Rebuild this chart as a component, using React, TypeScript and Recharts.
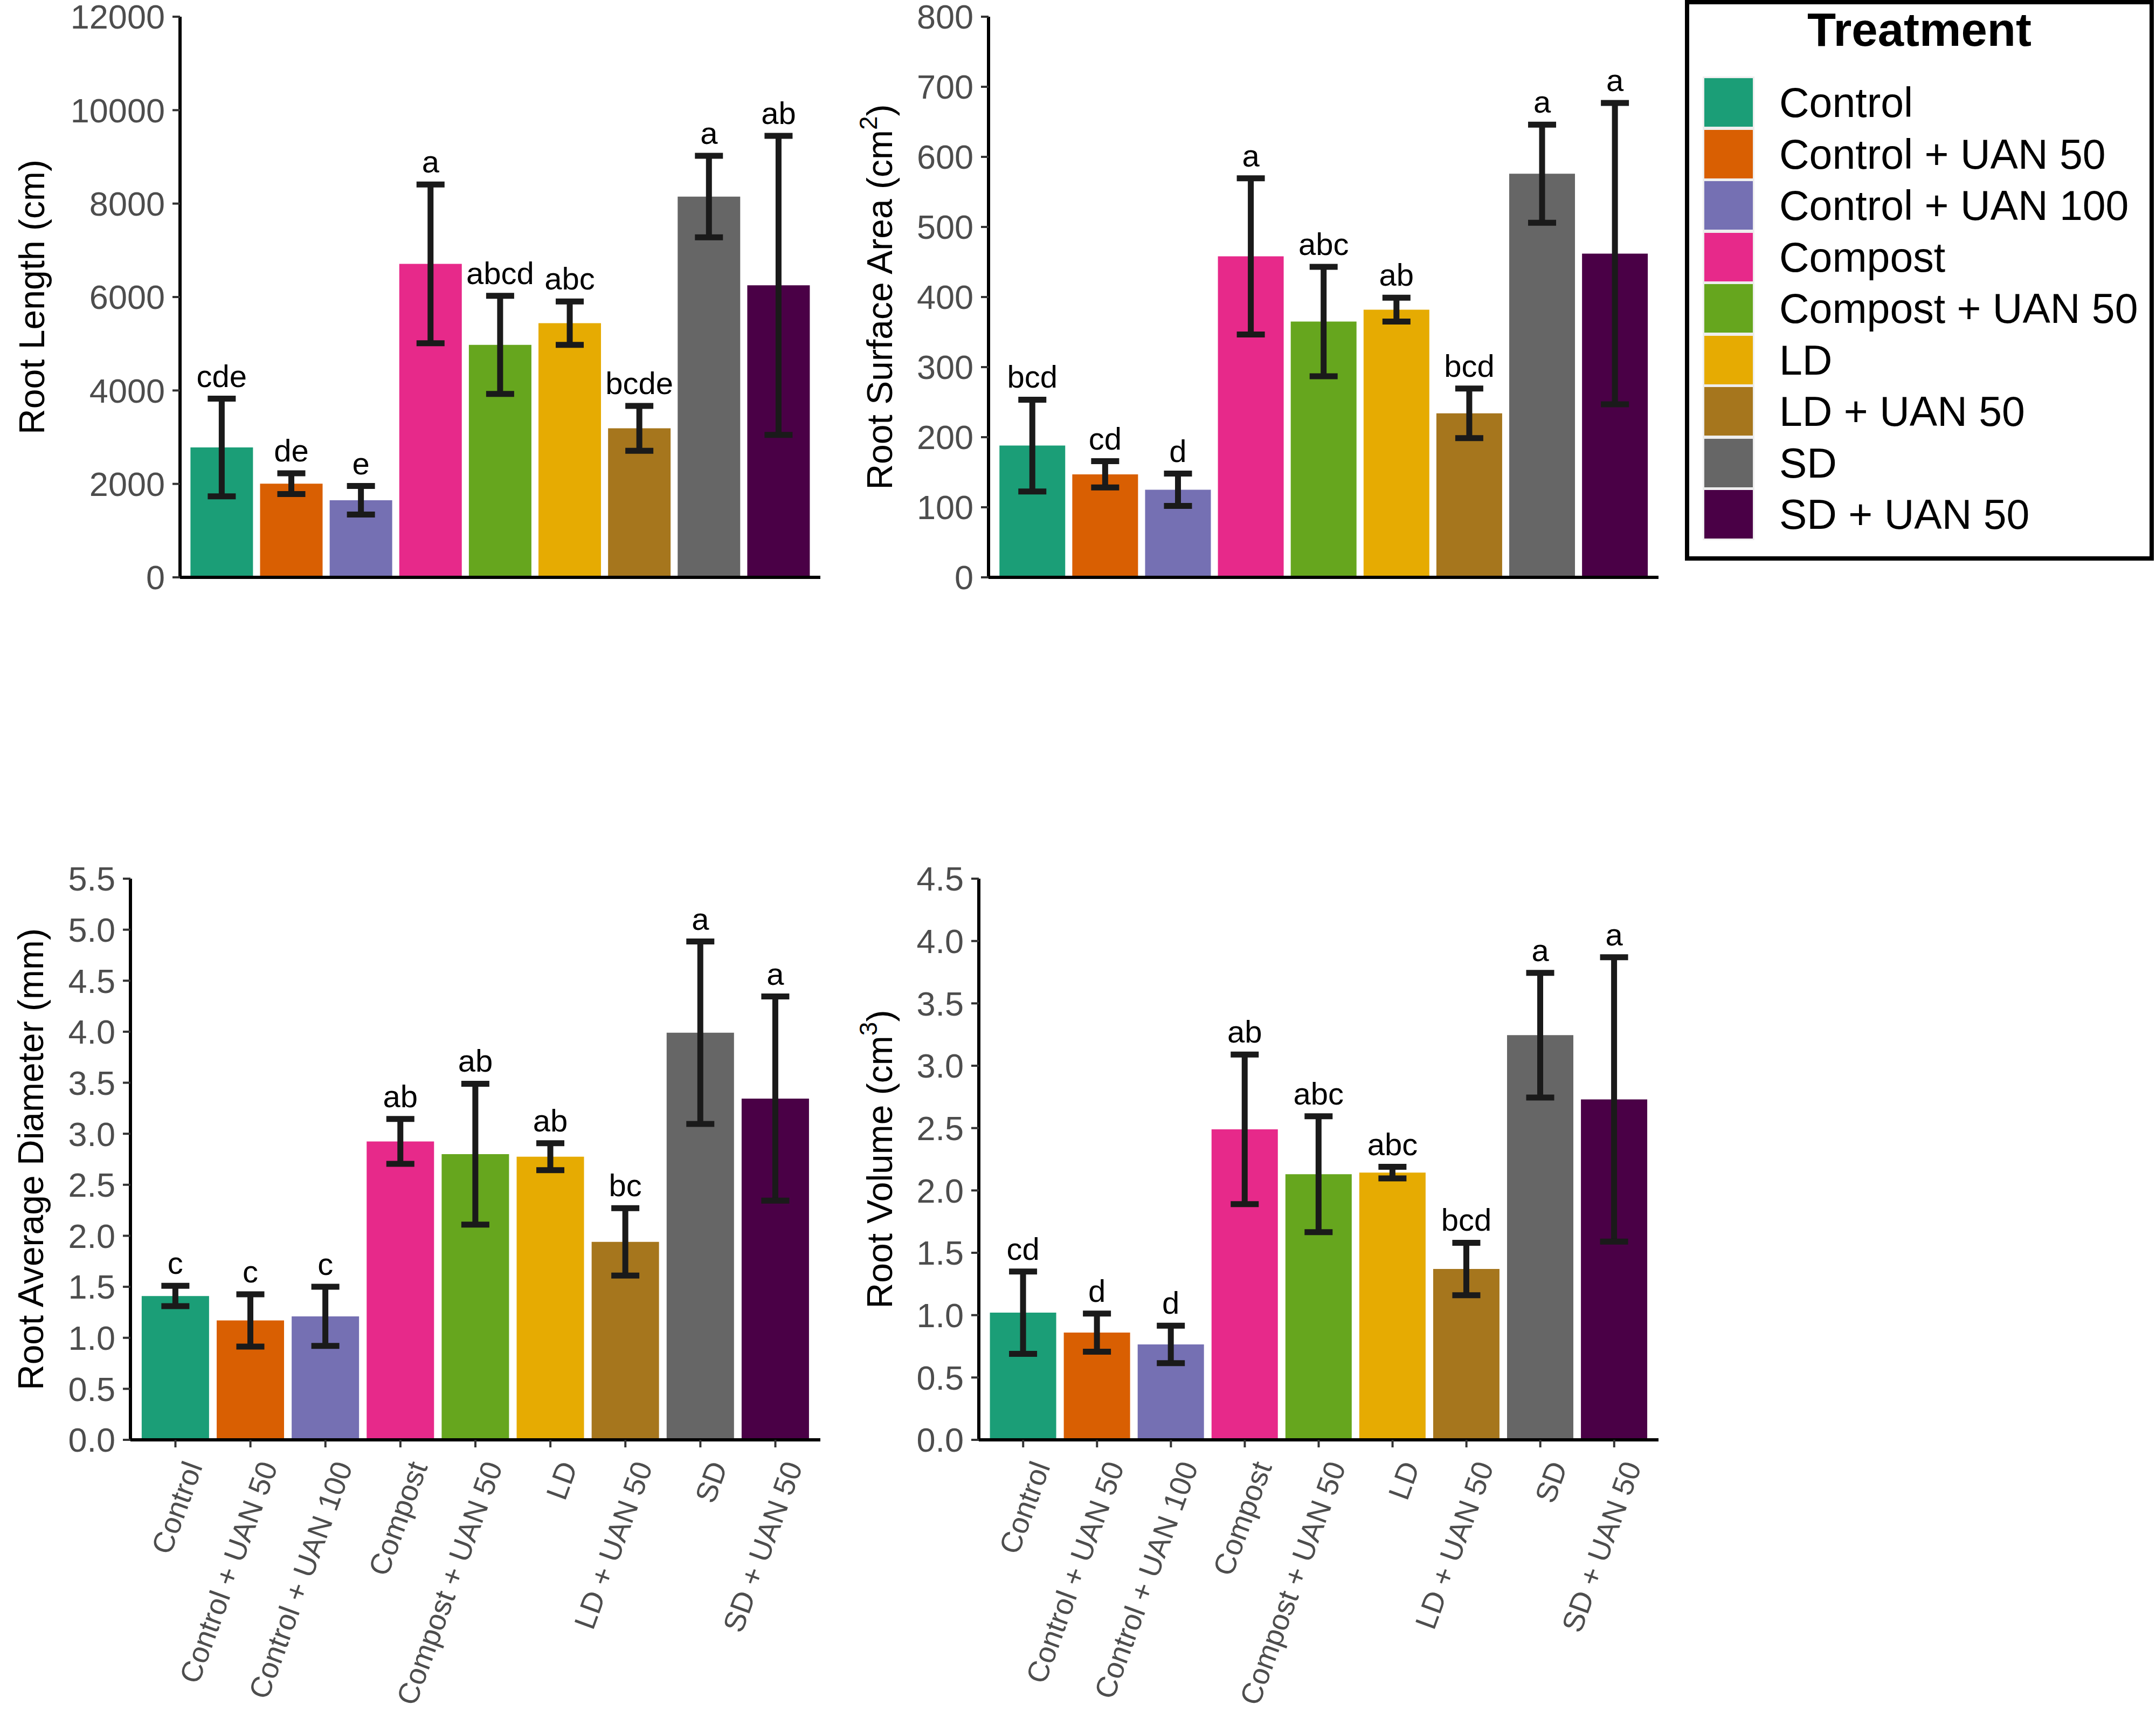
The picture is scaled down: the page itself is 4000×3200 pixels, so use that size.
import React from "react";
import { BarChart, Bar, XAxis, YAxis, ErrorBar, LabelList, Cell } from "recharts";

const FONT = "'Liberation Sans', Arial, Helvetica, sans-serif";

const treatments = [
  "Control",
  "Control + UAN 50",
  "Control + UAN 100",
  "Compost",
  "Compost + UAN 50",
  "LD",
  "LD + UAN 50",
  "SD",
  "SD + UAN 50",
];
const colors = ["#1b9e77", "#d95f02", "#7570b3", "#e7298a", "#66a61e", "#e6ab02", "#a6761d", "#666666", "#4a0046"];

// Root length (cm)
const lengthMean = [2780, 2005, 1650, 6710, 4975, 5440, 3190, 8150, 6250];
const lengthSe = [1045, 222, 305, 1700, 1050, 465, 480, 873, 3200];
const lengthLetters = ["cde", "de", "e", "a", "abcd", "abc", "bcde", "a", "ab"];
const lengthTicks = [0, 2000, 4000, 6000, 8000, 10000, 12000];

// Root surface area (cm2)
const areaMean = [188, 147, 125, 458, 365, 382, 234, 576, 462];
const areaSe = [65.5, 18.7, 23, 111.5, 78, 17, 35.4, 70, 215];
const areaLetters = ["bcd", "cd", "d", "a", "abc", "ab", "bcd", "a", "a"];
const areaTicks = [0, 100, 200, 300, 400, 500, 600, 700, 800];

// Root average diameter (mm)
const diamMean = [1.41, 1.17, 1.21, 2.925, 2.8, 2.775, 1.94, 3.99, 3.345];
const diamSe = [0.1, 0.256, 0.29, 0.22, 0.69, 0.132, 0.33, 0.894, 1.0];
const diamLetters = ["c", "c", "c", "ab", "ab", "ab", "bc", "a", "a"];
const diamTicks = [0, 0.5, 1, 1.5, 2, 2.5, 3, 3.5, 4, 4.5, 5, 5.5];

// Root volume (cm3)
const volMean = [1.02, 0.86, 0.765, 2.49, 2.13, 2.143, 1.37, 3.245, 2.73];
const volSe = [0.33, 0.153, 0.15, 0.6, 0.465, 0.046, 0.21, 0.5, 1.14];
const volLetters = ["cd", "d", "d", "ab", "abc", "abc", "bcd", "a", "a"];
const volTicks = [0, 0.5, 1, 1.5, 2, 2.5, 3, 3.5, 4, 4.5];

type PanelSpec = {
  left: number;
  top: number;
  width: number;
  height: number;
  yAxisWidth: number;
  marginTop: number;
  marginRight: number;
  xAxisHeight: number;
  mean: number[];
  se: number[];
  letters: string[];
  ticks: number[];
  decimals: number;
  title: React.ReactNode;
  titleX: number;
  showNames: boolean;
};

function SlantTick(props: any) {
  const { x, y, payload } = props;
  const ax = x + 51;
  const ay = y + 35;
  return (
    <text
      x={ax}
      y={ay}
      transform={`rotate(-70, ${ax}, ${ay})`}
      textAnchor="end"
      fontSize={55}
      fontFamily={FONT}
      fill="#4d4d4d"
    >
      {payload.value}
    </text>
  );
}

// tx/ty so that the props recharts passes to label content do not override them
function AxisTitle({ tx, ty, body }: { tx: number; ty: number; body: React.ReactNode }) {
  return (
    <text
      x={tx}
      y={ty}
      transform={`rotate(-90, ${tx}, ${ty})`}
      textAnchor="middle"
      fontSize={66}
      fontFamily={FONT}
      fill="#000"
    >
      {body}
    </text>
  );
}

function Panel({ spec }: { spec: PanelSpec }) {
  const rows = treatments.map((name, i) => ({
    name,
    mean: spec.mean[i],
    err: spec.se[i],
    letter: spec.letters[i],
  }));
  const plotBottom = spec.height - spec.xAxisHeight;
  const plotWidth = spec.width - spec.yAxisWidth - spec.marginRight;
  const pad = plotWidth / 92;
  const titleY = (spec.marginTop + plotBottom) / 2;
  const max = spec.ticks[spec.ticks.length - 1];

  const renderLetter = (props: any) => {
    const { x, y, width, height, index } = props;
    const row = rows[index];
    if (!row) return null;
    const perUnit = height / row.mean;
    const errTop = y - row.err * perUnit;
    return (
      <text
        x={x + width / 2}
        y={errTop - 22}
        textAnchor="middle"
        fontSize={58}
        fontFamily={FONT}
        fill="#000"
      >
        {row.letter}
      </text>
    );
  };

  return (
    <div style={{ position: "absolute", left: spec.left, top: spec.top }}>
      <BarChart
        width={spec.width}
        height={spec.height}
        data={rows}
        margin={{ top: spec.marginTop, right: spec.marginRight, bottom: 0, left: 0 }}
        barCategoryGap="5%"
      >
        <XAxis
          dataKey="name"
          height={spec.xAxisHeight}
          padding={{ left: pad, right: pad }}
          interval={0}
          axisLine={{ stroke: "#000", strokeWidth: 6 }}
          tickLine={{ stroke: "#333", strokeWidth: 4 }}
          tickSize={14}
          tickMargin={0}
          tick={spec.showNames ? <SlantTick /> : false}
        />
        <YAxis
          type="number"
          domain={[0, max]}
          ticks={spec.ticks}
          interval={0}
          allowDataOverflow
          width={spec.yAxisWidth}
          axisLine={{ stroke: "#000", strokeWidth: 6 }}
          tickLine={{ stroke: "#333", strokeWidth: 4 }}
          tickSize={14}
          tickMargin={14}
          tick={{ fontSize: 63, fill: "#4d4d4d", fontFamily: FONT }}
          tickFormatter={(v: number) => v.toFixed(spec.decimals)}
          label={<AxisTitle tx={spec.titleX} ty={titleY} body={spec.title} />}
        />
        <Bar dataKey="mean" isAnimationActive={false}>
          {rows.map((r, i) => (
            <Cell key={r.name} fill={colors[i]} />
          ))}
          <ErrorBar dataKey="err" width={26} strokeWidth={11} stroke="#1a1a1a" direction="y" />
          <LabelList dataKey="letter" content={renderLetter} />
        </Bar>
      </BarChart>
    </div>
  );
}

function TreatmentLegend() {
  return (
    <div
      style={{
        position: "absolute",
        left: 3126,
        top: 0,
        width: 870,
        height: 1040,
        border: "8px solid #000",
        boxSizing: "border-box",
        background: "#fff",
        fontFamily: FONT,
      }}
    >
      <div
        style={{
          position: "absolute",
          left: 0,
          right: 0,
          top: -3,
          textAlign: "center",
          fontWeight: "bold",
          fontSize: 87,
          lineHeight: "100px",
          color: "#000",
        }}
      >
        Treatment
      </div>
      {treatments.map((t, i) => (
        <div key={t} style={{ position: "absolute", left: 28, top: 137 + i * 95.5, height: 90, display: "flex", alignItems: "center" }}>
          <div
            style={{
              width: 90,
              height: 90,
              background: colors[i],
              boxShadow: "0 0 0 3px #eeeeee",
            }}
          />
          <div style={{ marginLeft: 49, fontSize: 77, color: "#000", whiteSpace: "nowrap", lineHeight: "90px" }}>{t}</div>
        </div>
      ))}
    </div>
  );
}

const panels: PanelSpec[] = [
  {
    left: 0, top: 0, width: 1560, height: 1120, yAxisWidth: 334, marginTop: 31, marginRight: 38, xAxisHeight: 49,
    mean: lengthMean, se: lengthSe, letters: lengthLetters, ticks: lengthTicks, decimals: 0,
    title: "Root Length (cm)", titleX: 82, showNames: false,
  },
  {
    left: 1560, top: 0, width: 1540, height: 1120, yAxisWidth: 274, marginTop: 31, marginRight: 23, xAxisHeight: 49,
    mean: areaMean, se: areaSe, letters: areaLetters, ticks: areaTicks, decimals: 0,
    title: (
      <>
        Root Surface Area (cm
        <tspan dy={-28} fontSize={46}>2</tspan>
        <tspan dy={28}>)</tspan>
      </>
    ),
    titleX: 95, showNames: false,
  },
  {
    left: 0, top: 1560, width: 1560, height: 1640, yAxisWidth: 242, marginTop: 70, marginRight: 38, xAxisHeight: 529,
    mean: diamMean, se: diamSe, letters: diamLetters, ticks: diamTicks, decimals: 1,
    title: "Root Average Diameter (mm)", titleX: 80, showNames: true,
  },
  {
    left: 1560, top: 1560, width: 1540, height: 1640, yAxisWidth: 256, marginTop: 70, marginRight: 23, xAxisHeight: 529,
    mean: volMean, se: volSe, letters: volLetters, ticks: volTicks, decimals: 1,
    title: (
      <>
        Root Volume (cm
        <tspan dy={-28} fontSize={46}>3</tspan>
        <tspan dy={28}>)</tspan>
      </>
    ),
    titleX: 95, showNames: true,
  },
];

export default function App() {
  return (
    <div style={{ position: "absolute", left: 0, top: 0, width: 4000, height: 3200, background: "#fff" }}>
      {panels.map((p, i) => (
        <Panel key={i} spec={p} />
      ))}
      <TreatmentLegend />
    </div>
  );
}
